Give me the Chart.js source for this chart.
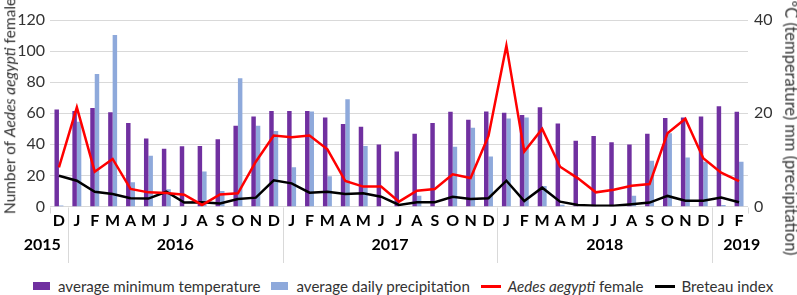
<!DOCTYPE html>
<html>
<head>
<meta charset="utf-8">
<script src="https://cdn.jsdelivr.net/npm/chart.js@4/dist/chart.umd.min.js"></script>
<style>
  html, body { margin: 0; padding: 0; background: #fff; }
  body { width: 797px; height: 295px; position: relative; overflow: hidden; font-family: Lato, "Liberation Sans", sans-serif; }
  #wrap { position: absolute; left: 0; top: 0; width: 797px; height: 268px; }
  .ytitle { position: absolute; white-space: nowrap; color: #333; line-height: 1; }
  #ltitle { font-size: 15.5px; left: 10px; top: 106px; transform: translate(-50%, -50%) rotate(-90deg); }
  #rtitle { font-size: 16.5px; left: 791px; top: 128px; transform: translate(-50%, -50%) rotate(90deg); }
  #legend { position: absolute; left: 33px; top: 277px; display: flex; align-items: center; font-size: 15.1px; color: #333; white-space: nowrap; }
  .li { display: flex; align-items: center; margin-right: 11px; }
  .box { width: 17px; height: 8px; margin-right: 8px; }
  .ln { width: 20px; height: 3px; margin-right: 7px; }
</style>
</head>
<body>
<div id="wrap"><canvas id="c" width="797" height="268"></canvas></div>
<div id="ltitle" class="ytitle">Number of <i>Aedes aegypti</i> female</div>
<div id="rtitle" class="ytitle">ºC (temperature) mm (precipitation)</div>
<div id="legend">
  <div class="li"><span class="box" style="background:#7030A0"></span>average minimum temperature</div>
  <div class="li"><span class="box" style="background:#8EA9DB"></span>average daily precipitation</div>
  <div class="li"><span class="ln" style="background:#FF0000"></span><i>Aedes aegypti</i>&nbsp;female</div>
  <div class="li"><span class="ln" style="background:#000"></span>Breteau index</div>
</div>
<script>
const months = ['D','J','F','M','A','M','J','J','A','S','O','N','D',
                'J','F','M','A','M','J','J','A','S','O','N','D',
                'J','F','M','A','M','J','J','A','S','O','N','D',
                'J','F'];
const yearLabels = ['2015','2016','2017','2018','2019'];
const yearSpans = [1, 12, 12, 12, 2];

const minTemp = [20.8,20.5,21.1,20.2,17.9,14.6,12.4,12.9,13.0,14.4,17.3,19.3,20.5,
                 20.5,20.5,19.1,17.7,17.1,13.3,11.8,15.6,17.9,20.3,18.6,20.4,
                 20.1,19.6,21.3,17.8,14.1,15.1,13.8,13.3,15.6,19.0,19.1,19.3,
                 21.5,20.3];
const precip = [0.2,18.2,28.4,36.8,5.2,10.9,3.7,0,7.5,3.3,27.5,17.3,16.2,
                8.4,20.4,6.5,23.0,13.0,0,0,2.3,0,12.8,16.9,10.7,
                18.9,19.1,4.4,0.4,0,0,0,2.3,9.8,15.7,10.5,9.6,
                0.3,9.6];
const aedesFemale = [25.2,63.8,22.4,30.6,11.3,9.1,8.7,7.6,1.0,7.8,8.5,28.8,45.6,
                     44.5,45.6,36.8,16.4,12.8,12.8,3.1,10.2,11.3,20.7,18.3,45.4,
                     103.5,35.3,49.9,25.6,18.1,9.1,10.8,13.4,14.5,47.1,56.5,31.0,
                     21.8,16.4];
const breteau = [19.8,16.6,9.5,8.0,5.3,5.1,9.5,2.5,2.7,2.0,4.8,5.7,16.9,
                 14.9,8.9,9.5,8.0,8.5,6.3,1.0,2.7,2.7,6.3,4.8,5.3,
                 16.6,3.5,12.1,3.1,1.0,0.5,0.5,1.4,2.5,6.8,3.7,3.7,
                 5.7,2.7];

const FONT = 'Lato, "Liberation Sans", sans-serif';
const GRID = '#d9d9d9';

const yearPlugin = {
  id: 'years',
  afterDraw(chart) {
    const ctx = chart.ctx, x = chart.scales.x;
    const step = x.getPixelForValue(1) - x.getPixelForValue(0);
    ctx.save();
    ctx.strokeStyle = GRID; ctx.lineWidth = 1;
    ctx.fillStyle = '#000';
    ctx.font = 'bold 16px ' + FONT;
    ctx.textBaseline = 'middle';
    let start = 0;
    const top = chart.chartArea.bottom + 1, bot = 263;
    [chart.chartArea.left, chart.chartArea.right].forEach(px => {
      ctx.beginPath(); ctx.moveTo(Math.round(px)+0.5, top); ctx.lineTo(Math.round(px)+0.5, top + 6); ctx.stroke();
    });
    yearSpans.forEach((n, i) => {
      const left = x.getPixelForValue(start) - step/2;
      const right = x.getPixelForValue(start + n - 1) + step/2;
      if (i > 0) {
        ctx.beginPath(); ctx.moveTo(Math.round(left)+0.5, top); ctx.lineTo(Math.round(left)+0.5, bot); ctx.stroke();
      }
      let tx = (left + right)/2, align = 'center';
      if (i === 0) { tx = right - 7; align = 'right'; }
      else if (i === yearSpans.length - 1) { tx = left + 11; align = 'left'; }
      ctx.textAlign = align;
      ctx.fillText(yearLabels[i], tx, 245);
      start += n;
    });
    ctx.restore();
  }
};

new Chart(document.getElementById('c'), {
  data: {
    labels: months,
    datasets: [
      { type: 'line', label: 'Aedes aegypti female', data: aedesFemale, yAxisID: 'y',
        borderColor: '#FF0000', borderWidth: 2.5, pointRadius: 0, tension: 0, order: 1 },
      { type: 'line', label: 'Breteau index', data: breteau, yAxisID: 'y',
        borderColor: '#000000', borderWidth: 2.5, pointRadius: 0, tension: 0, order: 1 },
      { type: 'bar', label: 'average minimum temperature', data: minTemp, yAxisID: 'y1',
        backgroundColor: '#7030A0', categoryPercentage: 0.5, barPercentage: 1.0, order: 2 },
      { type: 'bar', label: 'average daily precipitation', data: precip, yAxisID: 'y1',
        backgroundColor: '#8EA9DB', categoryPercentage: 0.5, barPercentage: 1.0, order: 2 }
    ]
  },
  options: {
    responsive: false,
    animation: false,
    events: [],
    layout: { padding: { top: 20, left: 0, right: 0, bottom: 0 } },
    plugins: { legend: { display: false }, tooltip: { enabled: false } },
    scales: {
      x: {
        offset: true,
        grid: { display: false, drawTicks: false },
        border: { display: false },
        ticks: { font: { family: FONT, size: 16, weight: 'bold' }, color: '#000', padding: 5, autoSkip: false, maxRotation: 0 },
        afterFit(s) { s.height = 61.5; }
      },
      y: {
        position: 'left', min: 0, max: 120,
        ticks: { stepSize: 20, font: { family: FONT, size: 16 }, color: '#333', padding: 5 },
        grid: { color: GRID, drawTicks: false },
        border: { display: false },
        afterFit(s) { s.width = 50; }
      },
      y1: {
        position: 'right', min: 0, max: 40,
        ticks: { stepSize: 20, font: { family: FONT, size: 16 }, color: '#333', padding: 6 },
        grid: { display: false, drawTicks: false },
        border: { display: false },
        afterFit(s) { s.width = 49; }
      }
    }
  },
  plugins: [yearPlugin]
});
</script>
</body>
</html>
